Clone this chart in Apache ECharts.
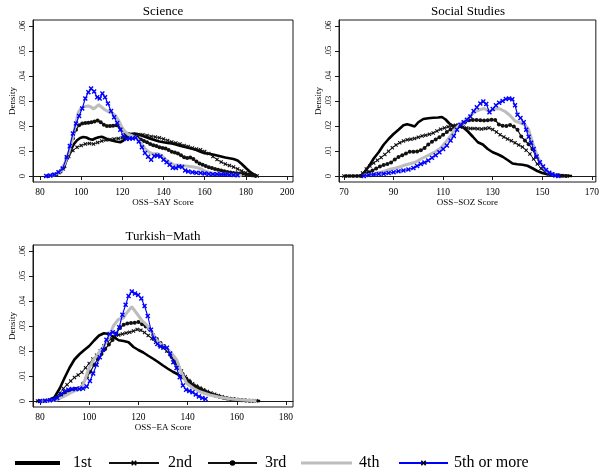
<!DOCTYPE html>
<html>
<head>
<meta charset="utf-8">
<script src="https://cdn.jsdelivr.net/npm/echarts@6/dist/echarts.min.js"></script>
<style>
  html, body { margin: 0; padding: 0; background: #fff; }
  #chart { width: 602px; height: 475px; }
</style>
</head>
<body>
<div id="chart"></div>
<script>
// Kernel density of OSS scores by number of attempts, three exam tracks.

const panelTitles = ['Science', 'Social Studies', 'Turkish\u2212Math'];
const scoreTitles = ['OSS\u2212SAY Score', 'OSS\u2212SOZ Score', 'OSS\u2212EA Score'];
const attemptNames = ['1st', '2nd', '3rd', '4th', '5th or more'];

const sciTicks = [80, 100, 120, 140, 160, 180, 200];
const ssTicks = [70, 90, 110, 130, 150, 170];
const tmTicks = [80, 100, 120, 140, 160, 180];
const densityTicks = [0, 0.01, 0.02, 0.03, 0.04, 0.05, 0.06];
const densityLabels = ['0', '.01', '.02', '.03', '.04', '.05', '.06'];

// Science (OSS-SAY)
const sci1st = [[84,0],[86,0.0003],[88,0.0009],[90,0.002],[92,0.0045],[93.5,0.0075],[95,0.0105],[96.5,0.0128],[98,0.0143],[99.5,0.0152],[101,0.0156],[102.5,0.0154],[104,0.0148],[105.5,0.0145],[107,0.0151],[108.5,0.0155],[110,0.0157],[111.5,0.0152],[113,0.0146],[115,0.0142],[117,0.0138],[119,0.0135],[120.5,0.0142],[122,0.0158],[124,0.0168],[126,0.017],[128,0.0166],[130,0.016],[132,0.0154],[134,0.0148],[136,0.0143],[138,0.0138],[140,0.0135],[142,0.0132],[144,0.013],[146,0.0126],[148,0.0121],[150,0.0117],[152,0.0113],[154,0.0109],[156,0.0104],[158,0.0097],[160,0.0091],[162,0.0089],[164,0.0086],[166,0.0082],[168,0.0078],[170,0.0074],[172,0.0071],[174,0.0068],[176,0.0062],[178,0.0048],[180,0.0032],[182,0.0017],[184,0.0006],[185.5,0]];
const sci2nd = [[84,0],[86,0.0003],[88,0.0008],[90,0.0018],[92,0.004],[94,0.0078],[96,0.0102],[98,0.0115],[100,0.0122],[102,0.0128],[104,0.013],[106,0.0128],[108,0.0134],[110,0.014],[112,0.0144],[114,0.0146],[116,0.0148],[118,0.015],[120,0.0153],[122,0.0158],[124,0.0162],[126,0.0164],[128,0.0166],[130,0.0165],[132,0.0162],[134,0.0158],[136,0.0156],[138,0.0153],[140,0.0148],[142,0.0142],[144,0.0136],[146,0.0132],[148,0.0128],[150,0.0122],[152,0.0118],[154,0.0112],[156,0.0108],[158,0.0105],[160,0.0098],[162,0.009],[164,0.0078],[166,0.0066],[168,0.0056],[170,0.0048],[172,0.0042],[174,0.0036],[176,0.0028],[178,0.002],[180,0.0013],[182,0.0007],[184,0.0002],[185.5,0]];
const sci3rd = [[84,0],[86,0.0003],[88,0.0008],[90,0.002],[91.5,0.0035],[93,0.0075],[94.5,0.011],[96,0.015],[97.5,0.0185],[99,0.0203],[100.5,0.021],[102,0.0212],[103.5,0.0213],[105,0.0215],[106.5,0.0218],[108,0.0222],[109.5,0.0215],[111,0.0205],[112.5,0.02],[114,0.02],[115.5,0.0201],[117,0.0203],[118.5,0.0198],[120,0.0185],[121.5,0.017],[123,0.0168],[124.5,0.0163],[126,0.016],[127.5,0.0153],[129,0.0146],[130.5,0.014],[132,0.0135],[133.5,0.0128],[135,0.0123],[136.5,0.012],[138,0.0115],[139.5,0.0112],[141,0.011],[142.5,0.0104],[144,0.0097],[145.5,0.0094],[147,0.009],[148.5,0.0083],[150,0.0075],[151.5,0.0072],[153,0.0074],[154.5,0.0068],[156,0.0058],[157.5,0.005],[159,0.0045],[160.5,0.004],[162,0.0035],[163.5,0.0032],[165,0.0028],[166.5,0.0025],[168,0.0022],[169.5,0.0019],[171,0.0016],[172.5,0.0014],[174,0.0012],[175.5,0.0011],[177,0.001],[178.5,0.0009],[180,0.0007],[181.5,0.0005],[183,0.0003],[184.5,0.0001]];
const sci4th = [[84,0],[87,0.0005],[90,0.002],[92,0.005],[94,0.0095],[95.5,0.014],[97,0.0197],[98.6,0.0255],[100,0.0272],[101.5,0.0278],[103.5,0.028],[105,0.0275],[106,0.0268],[107.5,0.0278],[108.5,0.0285],[110,0.0275],[111.5,0.0265],[113,0.0258],[115,0.0252],[116.5,0.0243],[118,0.0225],[119.5,0.02],[121,0.018],[123,0.0166],[125,0.016],[127,0.015],[129,0.0132],[131,0.011],[133,0.0095],[135,0.0088],[137,0.009],[139,0.0082],[141,0.0066],[143,0.0055],[145,0.0045],[148,0.0043],[151,0.004],[154,0.0037],[157,0.0032],[159,0.0025],[161,0.0017],[164,0.001],[167,0.0008],[171,0.0007],[175,0.0004],[178,0.0002]];
const sci5th = [[83,0],[85,0.0002],[87,0.0006],[89,0.0015],[91,0.003],[93,0.0075],[94.5,0.012],[96,0.017],[97.5,0.021],[99,0.024],[100.5,0.027],[102,0.031],[103.5,0.0335],[104.8,0.035],[106.3,0.0338],[107.8,0.0315],[109,0.031],[110.3,0.033],[111.6,0.0315],[113,0.029],[114.5,0.026],[116,0.0235],[117.5,0.0212],[119,0.0185],[120.5,0.016],[122,0.0148],[123.5,0.015],[125,0.015],[126.5,0.0153],[128,0.0138],[129.5,0.0115],[131,0.0092],[132.5,0.0077],[134,0.0065],[135.5,0.008],[137,0.0082],[138.5,0.0078],[140,0.0065],[141.5,0.0055],[143,0.0045],[144.5,0.0033],[146,0.0032],[147.5,0.0038],[149,0.0036],[150.5,0.0022],[152,0.0018],[154,0.0015],[156,0.0013],[158,0.0012],[160,0.001],[162,0.0008],[164,0.0007],[166,0.0007],[168,0.0006],[170,0.0006],[172,0.0005],[174,0.0004],[176,0.0003]];

// Social Studies (OSS-SOZ)
const ss1st = [[70,0],[76,0],[77.5,0.0005],[79,0.0025],[80.5,0.0045],[82,0.007],[84,0.0095],[86,0.0125],[88,0.0148],[90,0.0168],[92,0.0185],[94,0.0203],[95.5,0.0207],[97,0.0203],[98.5,0.0198],[100,0.0215],[102,0.0228],[104,0.0231],[106,0.0233],[108,0.0234],[109.5,0.0236],[111,0.0226],[112.5,0.021],[114,0.0201],[116,0.0198],[118,0.0195],[120,0.0178],[122,0.0157],[124,0.0135],[126,0.0126],[128,0.0108],[130,0.0095],[132,0.0087],[134,0.0077],[136,0.0064],[138,0.005],[140,0.0047],[142,0.0045],[144,0.0041],[146,0.0031],[148,0.002],[150,0.0012],[152,0.0007],[154,0.0004],[157,0.0002],[162,0]];
const ss2nd = [[70,0],[71.5,0],[73,0],[74.5,0],[76,0],[77.5,0.0012],[79,0.0028],[80.5,0.004],[82,0.0052],[83.5,0.0063],[85,0.0074],[86.5,0.0086],[88,0.0099],[89.5,0.0113],[91,0.0124],[92.5,0.0133],[94,0.014],[95.5,0.0145],[97,0.0147],[98.5,0.015],[100,0.0155],[101.5,0.016],[103,0.0163],[104.5,0.0167],[106,0.0172],[107.5,0.018],[109,0.0187],[110.5,0.0192],[112,0.0197],[113.5,0.02],[115,0.0203],[116.5,0.02],[118,0.0196],[119.5,0.0192],[121,0.019],[122.5,0.019],[124,0.0189],[125.5,0.0188],[127,0.019],[128.5,0.0192],[130,0.0186],[131.5,0.0176],[133,0.0165],[134.5,0.0156],[136,0.0148],[137.5,0.0141],[139,0.0133],[140.5,0.0124],[142,0.0116],[143.5,0.0103],[145,0.0088],[146.5,0.0068],[148,0.0048],[149.5,0.003],[151,0.0017],[152.5,0.0009],[154,0.0005],[156,0.0002],[158,0.0001],[160,0]];
const ss3rd = [[77,0],[78.5,0.001],[80,0.0015],[81.5,0.0022],[83,0.003],[84.5,0.0038],[86,0.0044],[87.5,0.0048],[89,0.0054],[90.5,0.0066],[92,0.0076],[93.5,0.0083],[95,0.009],[96.5,0.0097],[98,0.0097],[99.5,0.0098],[101,0.0103],[102.5,0.0112],[104,0.0126],[105.5,0.0137],[107,0.0146],[108.5,0.0155],[110,0.0165],[111.5,0.0176],[113,0.0186],[114.5,0.0196],[116,0.0203],[117.5,0.0209],[119,0.0217],[120.5,0.0223],[122,0.0224],[123.5,0.0224],[125,0.0223],[126.5,0.0222],[128,0.0223],[129.5,0.0225],[131,0.0224],[132.5,0.0206],[134,0.0201],[135.5,0.02],[137,0.0204],[138.5,0.0198],[140,0.0185],[141.5,0.0158],[143,0.0142],[144.5,0.0127],[146,0.0108],[147.5,0.0077],[149,0.0052],[150.5,0.003],[152,0.0016],[153.5,0.0009],[155,0.0005],[156.5,0.0003],[158,0.0001],[159.5,0]];
const ss4th = [[78,0.0003],[82,0.0008],[86,0.0018],[89,0.0028],[91,0.0032],[93,0.0038],[95,0.0045],[97,0.005],[99,0.0056],[101,0.0068],[103,0.0078],[105,0.0088],[107,0.0098],[109,0.0112],[111,0.0135],[113,0.016],[115,0.019],[117,0.0208],[119,0.0222],[121,0.0242],[123,0.0258],[125,0.0266],[126.6,0.027],[128.5,0.0258],[130,0.0265],[131.5,0.027],[133,0.0268],[135,0.0258],[137,0.0242],[139,0.022],[141,0.0213],[143,0.0205],[144.5,0.0185],[146,0.0135],[148,0.008],[150,0.004],[152,0.0018],[154,0.0008],[156,0.0003]];
const ss5th = [[78,0],[80,0.0004],[82,0.0006],[84,0.0008],[86,0.0009],[88,0.0012],[90,0.0015],[92,0.0019],[94,0.0022],[96,0.0026],[98,0.0032],[99.5,0.004],[101,0.0048],[102.5,0.0054],[104,0.0062],[105.5,0.0073],[107,0.0083],[108.5,0.0095],[110,0.0108],[111.5,0.0122],[113,0.0142],[114.3,0.016],[115.6,0.0185],[117,0.0205],[118.3,0.0215],[119.6,0.0225],[121,0.0238],[122.3,0.026],[123.6,0.0275],[125,0.029],[126.2,0.0298],[127.4,0.0288],[128.7,0.0255],[130,0.0268],[131.3,0.0283],[132.6,0.0293],[134,0.03],[135.3,0.0308],[136.6,0.031],[137.9,0.0307],[139,0.0283],[140,0.0245],[141.2,0.0232],[142.5,0.0215],[143.5,0.0185],[144.5,0.0157],[145.5,0.0133],[146.5,0.0108],[147.7,0.0078],[149,0.0055],[150.3,0.0038],[151.5,0.0024],[152.8,0.0013],[154,0.0007],[155.3,0.0002],[156.5,0]];

// Turkish-Math (OSS-EA)
const tm1st = [[79,0],[82,0.0001],[84,0.0004],[86,0.0017],[88,0.005],[90,0.0093],[92,0.0133],[94,0.0166],[96,0.0187],[98,0.0204],[100,0.022],[102,0.0242],[104,0.0262],[106,0.0271],[108,0.0268],[110,0.0255],[112,0.0243],[114,0.024],[116,0.0235],[118,0.0216],[120,0.0204],[122,0.0194],[124,0.0181],[126,0.0169],[128,0.0156],[130,0.0142],[132,0.0129],[134,0.0117],[136,0.0107],[138,0.0094],[140,0.0078],[142,0.0064],[144,0.0052],[146,0.0042],[148,0.0033],[150,0.0025],[152,0.0019],[154,0.0014],[156,0.0009],[158,0.0006],[161,0.0003],[165,0.0001],[169.5,0]];
const tm2nd = [[79,0],[81,0],[83,0.0002],[85,0.0008],[86.5,0.0016],[88,0.003],[89.5,0.005],[91,0.0065],[92.5,0.008],[94,0.0094],[95.5,0.0104],[97,0.0115],[98.5,0.0133],[100,0.015],[101.5,0.0168],[103,0.0183],[104.5,0.02],[106,0.022],[107.5,0.0236],[109,0.025],[110.5,0.0258],[112,0.0264],[113.5,0.0268],[115,0.0272],[116.5,0.0275],[118,0.028],[119.5,0.0286],[121,0.0283],[122.5,0.0274],[124,0.0262],[125.5,0.025],[127,0.0235],[128.5,0.0222],[130,0.0212],[131.5,0.02],[133,0.0185],[134.5,0.0163],[136,0.0143],[137.5,0.012],[139,0.0097],[140.5,0.0082],[142,0.0069],[143.5,0.006],[145,0.0052],[146.5,0.0045],[148,0.0038],[149.5,0.0032],[151,0.0027],[152.5,0.0022],[154,0.0017],[155.5,0.0013],[157,0.001],[158.5,0.0008],[160,0.0006],[161.5,0.0004],[163,0.0003],[164.5,0.0002],[166,0.0001],[168,0.0001]];
const tm3rd = [[80,0],[82,0.0001],[84,0.0003],[85.5,0.0006],[87,0.0012],[88.5,0.0022],[90,0.0033],[91.5,0.0041],[93,0.0045],[94.5,0.0048],[96,0.0052],[97.5,0.007],[99,0.0095],[100.5,0.0117],[102,0.0145],[103.5,0.0168],[105,0.0188],[106.5,0.0208],[108,0.0226],[109.5,0.0244],[111,0.027],[112.5,0.0292],[114,0.0305],[115.5,0.031],[117,0.0312],[118.5,0.0313],[120,0.0316],[121.5,0.0307],[123,0.0298],[124.5,0.0287],[126,0.0265],[127.5,0.0248],[129,0.0232],[130.5,0.022],[132,0.02],[133.5,0.0176],[135,0.0152],[136.5,0.0132],[138,0.0108],[139.5,0.009],[141,0.0077],[142.5,0.0063],[144,0.0056],[145.5,0.0048],[147,0.004],[148.5,0.0032],[150,0.0026],[151.5,0.002],[153,0.0016],[154.5,0.0013],[156,0.001],[157.5,0.0008],[159,0.0006],[160.5,0.0005],[162,0.0003],[163.5,0.0002],[165,0.0001],[166.5,0.0001]];
const tm4th = [[80,0],[84,0.0001],[87,0.0005],[89.5,0.0017],[92,0.003],[95,0.0044],[97,0.0058],[98.3,0.0084],[99.6,0.0124],[101.7,0.0164],[103.7,0.019],[105.7,0.0215],[107.8,0.025],[109.8,0.03],[111.8,0.0326],[113.9,0.0332],[115.2,0.0352],[117.3,0.0377],[119.3,0.0351],[121.3,0.0324],[123.4,0.0304],[125.4,0.0277],[127.4,0.0244],[129.5,0.0224],[131.5,0.0211],[133.5,0.0191],[135.6,0.0164],[137.6,0.0111],[139.6,0.0071],[142.3,0.0051],[145,0.0037],[149,0.0024],[153,0.0015],[158.5,0.0007],[164,0.0003],[168,0.0001]];
const tm5th = [[80,0],[82,0.0001],[84,0.0003],[85.5,0.0006],[87,0.0012],[88.5,0.0027],[90,0.0038],[91.5,0.0045],[93,0.0048],[94.5,0.0048],[96,0.0048],[97.5,0.005],[99,0.0058],[100.3,0.008],[101.6,0.011],[103,0.0145],[104.3,0.0175],[105.6,0.0205],[107,0.0245],[108.3,0.0268],[109.6,0.0275],[110.9,0.0268],[112.2,0.0295],[113.5,0.0345],[114.8,0.0385],[116,0.042],[117.3,0.0438],[118.6,0.043],[119.9,0.0424],[121.2,0.041],[122.5,0.038],[123.8,0.034],[125.1,0.0285],[126.4,0.025],[127.7,0.0228],[129,0.0218],[130.3,0.0215],[131.6,0.0213],[132.9,0.019],[134.2,0.0155],[135.5,0.0132],[136.8,0.0095],[138.1,0.0062],[139.4,0.0045],[140.7,0.004],[142,0.0035],[143.3,0.0026],[144.6,0.0018],[146,0.0012],[147.3,0.0008]];

const SERIF = "'Liberation Serif', 'DejaVu Serif', serif";
const crossPath = 'path://M0,2L2,0L5,3L8,0L10,2L7,5L10,8L8,10L5,7L2,10L0,8L3,5Z';

// line look for each attempt group
const looks = [
  { color: '#000000', width: 2.6, symbol: 'none', size: 0 },
  { color: '#111111', width: 0.9, symbol: crossPath, size: 4 },
  { color: '#111111', width: 1.2, symbol: 'circle', size: 4 },
  { color: '#bdbdbd', width: 3, symbol: 'none', size: 0 },
  { color: '#0000ff', width: 1.1, symbol: crossPath, size: 5 }
];

const panels = [
  { ticks: sciTicks, min: 76.6, max: 202.9, box: { left: 33, top: 20, width: 260, height: 162 },
    curves: [sci1st, sci2nd, sci3rd, sci4th, sci5th] },
  { ticks: ssTicks, min: 68, max: 171.6, box: { left: 339, top: 20, width: 258, height: 162 },
    curves: [ss1st, ss2nd, ss3rd, ss4th, ss5th] },
  { ticks: tmTicks, min: 77.15, max: 182.85, box: { left: 33, top: 245, width: 260, height: 162 },
    curves: [tm1st, tm2nd, tm3rd, tm4th, tm5th] }
];

const grid = [], xAxis = [], yAxis = [], series = [], title = [];
panels.forEach((p, i) => {
  grid.push(Object.assign({ show: true, borderColor: '#1a1a1a', borderWidth: 1, backgroundColor: '#fff' }, p.box));
  title.push({
    text: panelTitles[i],
    left: p.box.left + p.box.width / 2,
    top: p.box.top - 15,
    padding: 0,
    textAlign: 'center',
    textStyle: { fontFamily: SERIF, fontSize: 13, fontWeight: 'normal', color: '#000' }
  });
  xAxis.push({
    type: 'value', gridIndex: i, min: p.min, max: p.max,
    name: scoreTitles[i], nameLocation: 'middle', nameGap: 14,
    nameTextStyle: { fontFamily: SERIF, fontSize: 9, color: '#000' },
    axisLine: { show: true, lineStyle: { color: '#1a1a1a', width: 1 } },
    axisTick: { show: true, length: 4, customValues: p.ticks, lineStyle: { color: '#1a1a1a' } },
    axisLabel: { customValues: p.ticks, margin: 5, fontFamily: SERIF, fontSize: 9.5, color: '#000' },
    splitLine: { show: false }
  });
  yAxis.push({
    type: 'value', gridIndex: i, min: -0.0024, max: 0.0624,
    name: 'Density', nameLocation: 'middle', nameGap: 16, nameRotate: 90,
    nameTextStyle: { fontFamily: SERIF, fontSize: 9, color: '#000' },
    axisLine: { show: true, lineStyle: { color: '#1a1a1a', width: 1 } },
    axisTick: { show: true, length: 4, customValues: densityTicks, lineStyle: { color: '#1a1a1a' } },
    axisLabel: {
      customValues: densityTicks, rotate: 90, margin: 6,
      fontFamily: SERIF, fontSize: 8.5, color: '#000',
      formatter: v => densityLabels[Math.round(v * 100)]
    },
    splitLine: { show: false }
  });
  p.curves.forEach((curve, k) => {
    const look = looks[k];
    series.push({
      type: 'line', name: attemptNames[k], xAxisIndex: i, yAxisIndex: i,
      data: curve,
      showSymbol: look.symbol !== 'none',
      symbol: look.symbol, symbolSize: look.size,
      lineStyle: { color: look.color, width: look.width },
      itemStyle: { color: look.color },
      emphasis: { disabled: true },
      silent: true, z: 2 + k
    });
  });
});

// Legend keys: plain bars for the unmarked lines, line-plus-marker for the others.
const legendSlots = [
  { left: 10, w: 45, h: 4, pad: 8, icon: 'rect' },
  { left: 103, w: 50, h: 7, pad: 4 },
  { left: 202, w: 49, h: 7, pad: 3 },
  { left: 296, w: 51, h: 3, pad: 2, icon: 'rect' },
  { left: 393, w: 49, h: 7, pad: 1 }
];
const legend = attemptNames.map((name, k) => {
  const s = legendSlots[k];
  const item = { name };
  if (s.icon) item.icon = s.icon;
  return {
    data: [item], left: s.left, top: 450,
    itemWidth: s.w, itemHeight: s.h, selectedMode: false,
    itemStyle: s.icon ? { color: looks[k].color, borderWidth: 0 } : undefined,
    textStyle: { fontFamily: SERIF, fontSize: 16, color: '#000', padding: [0, 0, 0, s.pad] }
  };
});

const chart = echarts.init(document.getElementById('chart'), null, { renderer: 'canvas' });
chart.setOption({
  animation: false,
  backgroundColor: '#fff',
  title, grid, xAxis, yAxis, series, legend
});
</script>
</body>
</html>
